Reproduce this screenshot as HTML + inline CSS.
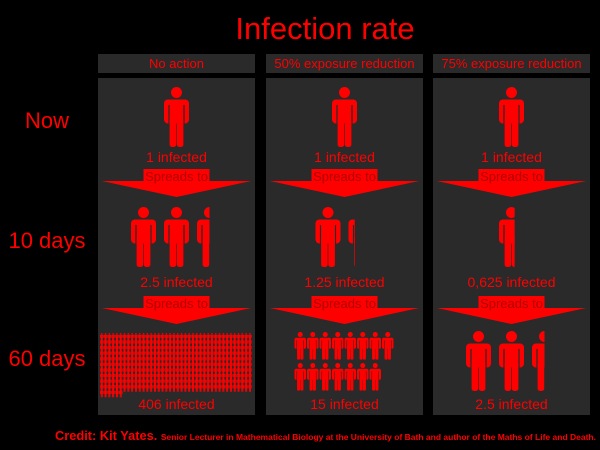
<!DOCTYPE html>
<html><head><meta charset="utf-8"><style>
html,body{margin:0;padding:0;background:#000;}
svg{display:block;font-family:"Liberation Sans",sans-serif;}
</style></head><body>
<svg id="c" width="600" height="450" viewBox="0 0 600 450">
<text x="325" y="39" text-anchor="middle" font-size="31" fill="#ff0000">Infection rate</text>
<text x="47" y="128" text-anchor="middle" font-size="22" fill="#ff0000">Now</text>
<text x="47" y="248" text-anchor="middle" font-size="22" fill="#ff0000">10 days</text>
<text x="47" y="366" text-anchor="middle" font-size="22" fill="#ff0000">60 days</text>
<text x="55" y="440" font-size="12.5" font-weight="bold" fill="#ff0000" textLength="541" lengthAdjust="spacingAndGlyphs">Credit: Kit Yates. <tspan font-size="8.3">Senior Lecturer in Mathematical Biology at the University of Bath and author of the Maths of Life and Death.</tspan></text>
<g id="g"></g>
</svg>
<script>
const scenarios = ["No action", "50% exposure reduction", "75% exposure reduction"];
const nowValues = [1, 1, 1];
const day10Values = [2.5, 1.25, 0.625];
const day60Values = [406, 15, 2.5];
const valueLabels10 = ["2.5", "1.25", "0,625"];

const NS = "http://www.w3.org/2000/svg";
const g = document.getElementById("g");
const colX = [98, 266, 433], colW = 157;
function el(tag, attrs, parent) {
  const e = document.createElementNS(NS, tag);
  for (const k in attrs) e.setAttribute(k, attrs[k]);
  (parent || g).appendChild(e);
  return e;
}
let clipId = 0;
function person(parent, x, y, s, frac) {
  const grp = el("g", {transform: `translate(${x},${y}) scale(${s})`}, parent);
  
  
  if (frac < 1) {
    const id = "cp" + (clipId++);
    const cp = el("clipPath", {id: id}, grp);
    el("rect", {x: 0, y: 0, width: 25 * frac, height: 60}, cp);
    grp.setAttribute("clip-path", `url(#${id})`);
  }
  el("circle", {cx: 12.5, cy: 5.5, r: 5.5, fill: "#ff0000"}, grp);
  el("rect", {x: 0, y: 12.5, width: 25, height: 24, rx: 4, fill: "#ff0000"}, grp);
  el("rect", {x: 4.4, y: 18, width: 1.2, height: 20, fill: "#2a2a2a"}, grp);
  el("rect", {x: 19.4, y: 18, width: 1.2, height: 20, fill: "#2a2a2a"}, grp);
  el("rect", {x: 5.6, y: 30, width: 6.6, height: 30, rx: 2.5, fill: "#ff0000"}, grp);
  el("rect", {x: 12.8, y: 30, width: 6.6, height: 30, rx: 2.5, fill: "#ff0000"}, grp);
}
function rowOfPeople(parent, cx, top, count, s, spacing) {
  const slots = Math.ceil(count);
  const start = cx - (slots - 1) * spacing / 2;
  for (let i = 0; i < slots; i++) {
    const frac = Math.min(1, count - i);
    person(parent, start + i * spacing - 12.5 * s, top, s, frac);
  }
}
function gridOfPeople(parent, x0, top, count, perRow, cw, ch, s) {
  for (let i = 0; i < count; i++) {
    const r = Math.floor(i / perRow), c = i % perRow;
    person(parent, x0 + c * cw, top + r * ch, s, 1);
  }
}
function arrow(parent, x, w, y) {
  const a = el("g", {}, parent);
  
  
  const cx = x + w / 2;
  el("polygon", {points: `${x + 4},${y + 12} ${x + w - 4},${y + 12} ${cx},${y + 28}`, fill: "#ff0000"}, a);
  el("rect", {x: cx - 33, y: y, width: 66, height: 15, fill: "#ff0000"}, a);
  const t = el("text", {x: cx, y: y + 12, "text-anchor": "middle", "font-size": 13, fill: "#b00000"}, a);
  t.textContent = "Spreads to";
}
scenarios.forEach((name, i) => {
  const x = colX[i], cx = x + colW / 2;
  const col = el("g", {});
  
  
  el("rect", {x: x, y: 54, width: colW, height: 19, fill: "#2a2a2a"}, col);
  const h = el("text", {x: cx, y: 68, "text-anchor": "middle", "font-size": 13, fill: "#ff0000"}, col);
  
  
  h.textContent = name;
  el("rect", {x: x, y: 78, width: colW, height: 337, fill: "#2a2a2a"}, col);
  rowOfPeople(col, cx, 87, nowValues[i], 1, 33);
  let t = el("text", {x: cx, y: 162, "text-anchor": "middle", "font-size": 14, fill: "#ff0000"}, col);
  t.textContent = nowValues[i] + " infected";
  arrow(col, x, colW, 169);
  rowOfPeople(col, cx, 207, day10Values[i], 1, 33);
  t = el("text", {x: cx, y: 287, "text-anchor": "middle", "font-size": 14, fill: "#ff0000"}, col);
  t.textContent = valueLabels10[i] + " infected";
  arrow(col, x, colW, 296);
  const v = day60Values[i];
  if (v > 100) {
    gridOfPeople(col, x + 2, 333, v, 40, 3.8, 5.6, 0.14);
  } else if (v > 5) {
    const per = Math.ceil(v / 2);
    gridOfPeople(col, cx - per * 12.5 / 2, 332, v, per, 12.5, 31, 0.46);
  } else {
    rowOfPeople(col, cx, 331, v, 1, 33);
  }
  t = el("text", {x: cx, y: 409, "text-anchor": "middle", "font-size": 14, fill: "#ff0000"}, col);
  t.textContent = v + " infected";
});
</script>
</body></html>
